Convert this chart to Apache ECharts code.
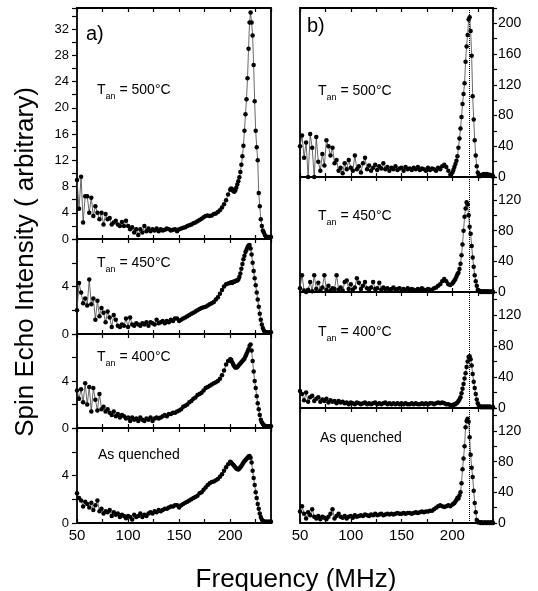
<!DOCTYPE html>
<html><head><meta charset="utf-8">
<script src="https://cdn.jsdelivr.net/npm/echarts@6/dist/echarts.min.js"></script>
<style>html,body{margin:0;padding:0;background:#fff}#c{width:538px;height:591px}</style>
</head><body><div id="c"></div>
<script>
// ---------- DATA ----------
const freq = [50,52,54,56,58,60,62,64,66,68,70,72,74,76,78,80,82,84,86,88,90,92,94,96,98,
100,102,104,106,108,110,112,114,116,118,120,122,124,126,128,130,132,134,136,138,140,142,144,146,148,
150,152,154,156,158,160,162,164,166,168,170,172,174,176,178,180,182,184,186,188,190,192,194,196,198,200,
201,202,203,204,205,206,207,208,209,210,211,212,213,214,215,216,217,218,219,220,
221,222,223,224,225,226,227,228,229,230,231,232,233,234,235,236,237,238,239,240];

// panel a) (left)
const a500 = [9,4.6,9.5,2.5,6.5,6.5,4,6.3,3.5,5,4,3,4,2.2,3.8,3,3.2,2.2,2.5,2.8,2.2,2,2.6,2,2.8,
2,1.5,1.8,1,1.5,0.6,1.5,1,2,1.2,1.6,1.2,1.5,1.3,1.6,1.2,1.5,1.3,1.4,1.6,1.5,1.3,1.4,1.5,1.2,
1.5,1.6,1.7,1.8,2.0,2.1,2.2,2.4,2.5,2.7,2.9,3.1,3.3,3.5,3.6,3.5,3.6,3.8,3.9,4.1,4.4,4.8,5.3,5.9,6.8,7.5,
7.7,7.6,7.3,7.2,7.4,7.8,8.3,8.8,9.4,10.2,11.3,12.6,14.2,16.5,19,21.3,24.5,29,33,34.5,
33,31,26.5,21,16.5,14,12,7,5,3,2,1.3,1,0.6,0.4,0.3,0.3,0.3,0.3,0.3];
const a450 = [2.0,4.3,3.5,2.6,3.0,2.4,4.6,2.5,3.0,1.2,2.8,1.5,2.2,1.8,1.0,1.9,1.4,0.6,1.6,1.2,0.7,0.6,0.8,0.7,1.3,
0.6,1.4,0.8,0.7,0.9,0.8,0.7,0.9,0.8,1.0,0.7,1.0,0.9,0.8,1.2,0.9,1.0,1.1,0.9,1.1,1.0,1.2,1.1,1.3,1.3,
1.1,1.2,1.3,1.4,1.5,1.6,1.7,1.8,1.9,2.0,2.1,2.2,2.25,2.3,2.4,2.5,2.6,2.7,2.9,3.1,3.4,3.7,4.0,4.2,4.25,4.3,
4.35,4.3,4.4,4.4,4.45,4.5,4.5,4.6,4.8,5.1,5.5,5.9,6.3,6.6,6.9,7.1,7.3,7.45,7.5,7.2,
6.7,6.0,5.3,4.7,4.1,3.5,2.9,2.3,1.7,1.2,0.8,0.5,0.3,0.2,0.15,0.15,0.15,0.15,0.15,0.15];
const a400 = [3.2,2.5,3.3,2.2,3.8,2.0,3.5,1.4,3.4,2.4,1.5,2.9,1.6,1.8,1.4,1.6,1.3,1.1,1.4,1.0,1.2,0.9,1.1,1.0,0.8,
0.9,0.6,0.9,0.7,0.8,0.6,0.9,0.7,0.6,0.8,0.7,0.9,0.6,0.8,0.9,0.8,0.9,1.0,1.1,1.0,1.2,1.2,1.3,1.3,1.4,
1.5,1.6,1.8,1.9,2.0,2.2,2.3,2.5,2.6,2.8,2.9,3.0,3.2,3.4,3.5,3.6,3.7,3.8,3.9,4.0,4.2,4.5,4.9,5.4,5.7,5.85,
5.8,5.6,5.4,5.25,5.15,5.15,5.2,5.3,5.4,5.5,5.6,5.7,5.8,5.9,6.1,6.3,6.5,6.7,7.0,7.1,
6.6,5.7,4.8,4.0,3.4,2.7,2.1,1.6,1.1,0.7,0.5,0.35,0.25,0.15,0.15,0.15,0.15,0.15,0.15,0.15];
const aQuenched = [2.5,2.1,1.9,1.4,1.8,1.6,1.3,1.7,1.1,1.5,1.9,1.0,1.2,0.8,1.0,0.9,1.1,0.6,0.9,0.7,0.8,0.5,0.7,0.6,0.4,
0.6,0.5,0.3,0.7,0.5,0.6,0.8,0.5,0.7,0.6,0.8,0.9,0.8,1.0,0.9,1.1,1.0,1.1,1.2,1.2,1.3,1.4,1.4,1.5,1.5,
1.3,1.5,1.6,1.7,1.8,1.9,2.0,2.1,2.2,2.3,2.5,2.6,2.8,3.0,3.2,3.35,3.45,3.5,3.6,3.7,3.9,4.1,4.4,4.7,4.95,5.15,
5.1,5.0,4.9,4.8,4.7,4.6,4.55,4.5,4.6,4.7,4.8,4.95,5.1,5.2,5.3,5.4,5.5,5.6,5.65,5.5,
5.1,4.4,3.8,3.2,2.6,2.1,1.6,1.2,0.8,0.5,0.3,0.2,0.1,0.1,0.1,0.1,0.1,0.1,0.1,0.1];

// panel b) (right)
const b500 = [40,54,25,45,0,56,38,0,52,20,8,30,15,48,40,28,38,18,22,8,12,5,18,10,22,
12,8,28,10,14,6,18,25,10,15,8,12,16,9,14,11,18,10,13,8,12,10,14,9,11,
12,8,13,10,11,9,12,10,13,9,11,10,8,12,9,11,10,8,12,10,14,16,13,8,3,6,
9,13,17,21,27,38,50,63,78,95,108,122,150,170,185,205,208,190,158,105,
75,48,28,14,6,2,1,2,3,2,4,3,2,4,3,2,3,2,1,1];
const b450 = [5,22,2,0,3,13,1,22,4,12,2,6,22,3,8,2,5,4,22,3,6,2,13,15,4,
10,3,6,18,12,4,8,13,5,3,6,13,4,5,12,3,6,4,5,3,4,6,3,4,5,
3,4,2,5,3,4,3,2,4,3,5,3,2,4,3,3,5,6,8,10,14,17,14,10,9,11,
13,15,17,20,23,25,30,37,48,62,80,98,109,117,114,100,85,76,60,45,
33,22,14,8,3,2,1,0,1,0,1,0,1,0,1,0,0,1,0,0];
const b400 = [22,18,10,20,8,14,16,9,12,14,8,11,9,12,7,10,8,9,6,9,7,8,6,7,5,
7,6,5,7,6,5,6,7,5,6,5,6,7,5,6,5,6,7,5,6,5,6,5,6,5,
6,5,6,5,5,6,5,6,5,5,6,5,6,5,6,6,5,6,7,6,7,6,5,5,4,4,
4,5,5,6,7,9,11,14,19,25,31,38,45,53,60,66,67,63,55,44,
34,26,18,11,6,3,2,1,2,1,2,1,2,1,2,1,2,1,1,1];
const bQuenched = [15,22,12,6,14,10,18,8,6,9,5,8,7,5,8,12,18,6,9,12,8,7,9,6,8,
9,7,10,8,9,10,9,11,10,9,11,10,12,10,11,12,10,11,12,11,12,11,12,13,12,
12,13,12,13,13,12,13,14,13,14,15,14,15,15,16,16,18,20,22,23,22,21,22,23,22,24,
25,26,28,30,33,32,36,40,52,70,84,100,125,133,136,132,112,89,72,60,
42,26,14,4,1,1,1,0,1,0,0,1,0,0,1,0,0,1,0,0];

// tick labels
const xTickLabels = [50,100,150,200];
const yTicksA500 = [0,4,8,12,16,20,24,28,32];
const yTicksA = [0,4];
const yTicksB500 = [0,40,80,120,160,200];
const yTicksB = [0,40,80,120];
const dottedLineAt = 217;
const panelTexts = ['500','450','400'];

// ---------- LAYOUT ----------
const FONT = '"Liberation Sans", Arial, Helvetica, sans-serif';
const panels = [
  {data:a500, left:77, top:8, w:194, h:231, max:35.2, step:2, ticks:yTicksA500, side:'left', bottom:false},
  {data:a450, left:77, top:239, w:194, h:95, max:8, step:2, ticks:yTicksA, side:'left', bottom:false},
  {data:a400, left:77, top:334, w:194, h:94, max:8, step:2, ticks:yTicksA, side:'left', bottom:false},
  {data:aQuenched, left:77, top:428, w:194, h:95, max:8, step:2, ticks:yTicksA, side:'left', bottom:true},
  {data:b500, left:300, top:8, w:193, h:169, max:220, step:20, ticks:yTicksB500, side:'right', bottom:false, dotted:true},
  {data:b450, left:300, top:177, w:193, h:115, max:150, step:20, ticks:yTicksB, side:'right', bottom:false, dotted:true},
  {data:b400, left:300, top:292, w:193, h:116, max:150, step:20, ticks:yTicksB, side:'right', bottom:false, dotted:true},
  {data:bQuenched, left:300, top:408, w:193, h:115, max:150, step:20, ticks:yTicksB, side:'right', bottom:true, dotted:true}
];

const grids=[], xAxes=[], yAxes=[], series=[];
const tickStyle = {color:'#000', width:1.2};
panels.forEach((p,i)=>{
  grids.push({left:p.left, top:p.top, width:p.w, height:p.h, show:true, borderColor:'#000', borderWidth:1.8, backgroundColor:'transparent'});
  const xb = {gridIndex:i, type:'value', min:50, max:240, interval:25, position:'bottom',
    axisLine:{show:false, onZero:false}, splitLine:{show:false},
    axisTick:{inside:true, length:4, lineStyle:tickStyle},
    axisLabel:{show:p.bottom, margin:5, fontSize:15, color:'#000', fontFamily:FONT,
      formatter:v=> xTickLabels.includes(v) ? String(v) : ''}};
  xAxes.push(xb);
  xAxes.push(Object.assign({}, xb, {position:'top', axisLabel:{show:false}}));
  yAxes.push({gridIndex:i, type:'value', min:0, max:p.max, interval:p.step, position:p.side,
    axisLine:{show:false, onZero:false}, splitLine:{show:false},
    axisTick:{inside:false, length:p.side==='left'?5:4, lineStyle:tickStyle},
    axisLabel:{margin:p.side==='left'?8:5, fontSize:p.side==='left'?13:14, color:'#000', fontFamily:FONT,
      formatter:v=> p.ticks.includes(v) ? String(v) : ''}});
  const s = {type:'line', xAxisIndex:2*i, yAxisIndex:i, data:freq.map((f,k)=>[f,p.data[k]]),
    symbol:'circle', symbolSize:4.5, itemStyle:{color:'#000'}, lineStyle:{color:'#444', width:0.8},
    animation:false, silent:true, z:3};
  if (p.dotted) {
    s.markLine = {silent:true, symbol:['none','none'], animation:false, label:{show:false},
      lineStyle:{type:'dotted', color:'#000', width:1}, data:[{xAxis:dottedLineAt}]};
  }
  series.push(s);
});

function tanText(x, y, temp){
  return {type:'text', x:x, y:y, z:10, style:{text:'{t|T}{s|an}{t| = '+temp+'°C}', verticalAlign:'middle', fill:'#000',
    rich:{t:{fontSize:14, lineHeight:14, fontFamily:FONT, fill:'#000'},
          s:{fontSize:9, lineHeight:9, padding:[14,0,0,0], fontFamily:FONT, fill:'#000'}}}};
}
function plain(x, y, txt, size, extra){
  return Object.assign({type:'text', x:x, y:y, z:10, style:Object.assign({text:txt, font:size+'px '+FONT, fill:'#000', verticalAlign:'middle'}, extra||{})});
}

const graphic = [
  plain(26, 262, 'Spin Echo Intensity ( arbitrary)', 26, {align:'center'}),
  plain(296, 580, 'Frequency (MHz)', 26, {align:'center'}),
  plain(86, 34, 'a)', 20),
  plain(307, 26, 'b)', 20),
  tanText(97, 90, panelTexts[0]),
  tanText(97, 263, panelTexts[1]),
  tanText(97, 357, panelTexts[2]),
  plain(98, 455, 'As quenched', 14),
  tanText(318, 91, panelTexts[0]),
  tanText(318, 216, panelTexts[1]),
  tanText(318, 332, panelTexts[2]),
  plain(320, 438, 'As quenched', 14)
];
graphic[0].rotation = Math.PI/2;

const chart = echarts.init(document.getElementById('c'), null, {renderer:'canvas'});
chart.setOption({animation:false, backgroundColor:'#fff', grid:grids, xAxis:xAxes, yAxis:yAxes, series:series, graphic:graphic});
</script>
</body></html>
